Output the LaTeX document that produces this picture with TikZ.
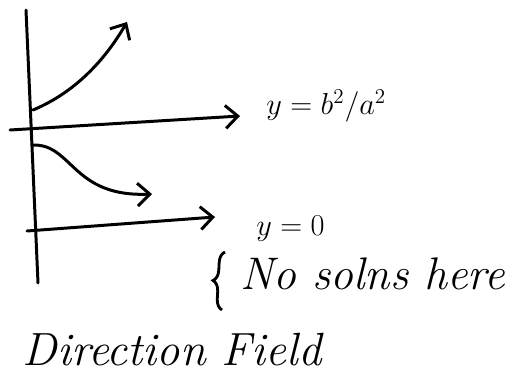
\documentclass[tikz,border=0pt]{standalone}
\usepackage{amsmath}
\usepackage{tikz}
\usetikzlibrary{arrows.meta,decorations.pathreplacing,positioning}

\begin{document}
\begin{tikzpicture}[
    axis/.style={line width=1.7pt, line cap=round},
    flow/.style={-{Straight Barb[length=7pt, width=13pt, line width=1.7pt]}, line width=1.7pt, line cap=round},
    sketch/.style={font=\fontsize{26}{28}\selectfont\itshape, inner sep=0pt},
    mathlbl/.style={font=\fontsize{18.5}{20}\selectfont, inner sep=0pt},
    bracket/.style={decorate, decoration={brace, amplitude=6pt}, line width=1.6pt},
]

% Frame
\useasboundingbox (0,0) rectangle (10.4,7.5);

% Axis ends
\coordinate (Vtop) at (0.52, 7.3);
\coordinate (Vbot) at (0.76, 1.84);
\coordinate (Uleft) at (0.2, 4.9);
\coordinate (Utip) at (4.8, 5.18);
\coordinate (Lleft) at (0.54, 2.88);
\coordinate (Ltip) at (4.3, 3.16);

% Vertical axis
\draw[axis] (Vtop) -- (Vbot);

% Equilibrium y = b^2/a^2
\draw[flow] (Uleft) -- (Utip);
\node[mathlbl, anchor=west, right=0.52cm of Utip, yshift=0.2cm] (upper) {$y = b^2/a^2$};

% Equilibrium y = 0
\draw[flow] (Lleft) -- (Ltip);
\node[mathlbl, anchor=west, right=0.82cm of Ltip, yshift=-0.24cm] (lower) {$y=0$};

% Solution curves
\coordinate (Astart) at (0.66, 5.3);
\coordinate (Aend) at (2.54, 7.06);
\draw[flow] (Astart) .. controls (1.5,5.65) and (2.1,6.3) .. (Aend);

\coordinate (Bstart) at (0.66, 4.6);
\coordinate (Bend) at (3.04, 3.62);
\draw[flow] (Bstart) .. controls (1.45,4.62) and (1.45,3.55) .. (Bend);

% No solutions below y = 0
\coordinate (Bbot) at (4.44, 1.3);
\coordinate (Btop) at (4.5, 2.46);
\draw[bracket] (Bbot) -- (Btop);
\node[sketch, anchor=west] (nosol) at (4.8, 2.02) {No solns here};

% Caption
\node[sketch, font=\fontsize{26.5}{28}\selectfont\itshape, anchor=west] (title) at (0.45, 0.5) {Direction Field};

\end{tikzpicture}
\end{document}
